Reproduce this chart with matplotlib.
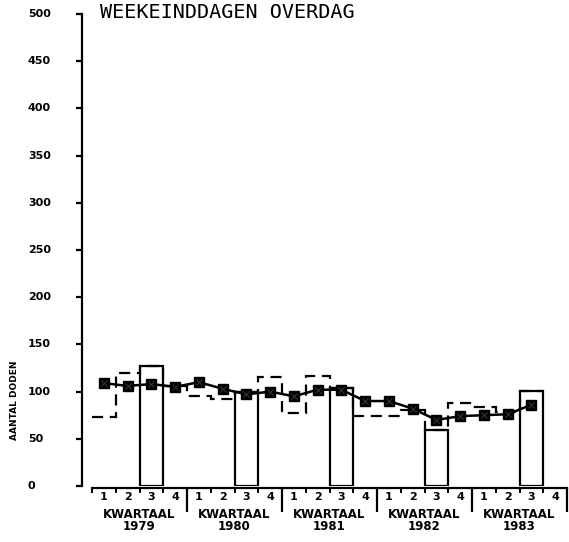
import matplotlib
matplotlib.use("Agg")
import matplotlib.pyplot as plt
import matplotlib.transforms as mtransforms
import numpy as np

# Data (quarters 1979 Q1 .. 1983 Q3)
years = ['1979', '1980', '1981', '1982', '1983']
quarter_labels = ['1', '2', '3', '4']
deaths = [73, 120, 127, 106, 95, 92, 100, 115, 77, 116, 104, 74, 74, 80, 59, 88, 84, 78, 101]
trend = [109, 106, 108, 105, 110, 103, 97, 100, 95, 102, 102, 90, 90, 82, 70, 74, 75, 76, 86]
yticks = [0, 50, 100, 150, 200, 250, 300, 350, 400, 450, 500]

W, H = 569, 542
fig = plt.figure(figsize=(W / 100, H / 100), dpi=100)
ax = fig.add_axes([92 / W, (H - 486) / H, 475 / W, 472 / H])

n_q = len(years) * 4
edges = np.arange(len(deaths) + 1)

# dashed quarterly step line
ax.stairs(deaths, edges, baseline=None, color='black', lw=1.6,
          linestyle=(0, (5, 3)))

# third quarters drawn as solid bars
q3 = [i for i in range(len(deaths)) if i % 4 == 2]
ax.bar(q3, [deaths[i] for i in q3], width=1, align='edge', fill=False,
       edgecolor='black', lw=1.6, zorder=3)

# smoothed line with square markers
xc = np.arange(len(trend)) + 0.5
ax.plot(xc, trend, color='black', lw=1.8, marker='s', ms=6.5, zorder=4)
ax.plot(xc, trend, ls='none', marker='x', ms=4, mec='#444444', mew=0.6, zorder=5)

ax.set_xlim(0, n_q)
ax.set_ylim(0, 500)

for s in ['top', 'right']:
    ax.spines[s].set_visible(False)
ax.spines['left'].set_position(('outward', 7.2))
ax.spines['bottom'].set_position(('outward', 1.5))
ax.spines['left'].set_linewidth(1.6)
ax.spines['bottom'].set_linewidth(1.6)

ax.set_yticks(yticks)
ax.set_yticklabels([])
ax.tick_params(axis='y', direction='out', length=4.3, width=1.6)

ax.set_xticks([4, 8, 12, 16, 20])
ax.set_xticks([i for i in range(n_q) if i % 4 != 0 or i == 0], minor=True)
ax.set_xticklabels([])
ax.tick_params(axis='x', which='major', direction='out', length=17, width=1.6)
ax.tick_params(axis='x', which='minor', direction='out', length=3.5, width=1.4)

# y tick labels, left aligned like the plotter output
ty = mtransforms.blended_transform_factory(fig.transFigure, ax.transData)
for v in yticks:
    ax.text(28 / W, v, str(v), transform=ty, ha='left', va='center',
            fontsize=8, fontweight='bold', family='DejaVu Sans')

# x labels
tx = mtransforms.blended_transform_factory(ax.transData, fig.transFigure)
for i in range(n_q):
    ax.text(i + 0.5, 1 - 497 / H, quarter_labels[i % 4], transform=tx,
            ha='center', va='center', fontsize=8, fontweight='bold')
for k, yr in enumerate(years):
    ax.text(4 * k + 2, 1 - 514 / H, 'KWARTAAL', transform=tx, ha='center',
            va='center', fontsize=8.5, fontweight='bold')
    ax.text(4 * k + 2, 1 - 527 / H, yr, transform=tx, ha='center',
            va='center', fontsize=8.5, fontweight='bold')

fig.text(15 / W, 1 - 400 / H, 'AANTAL DODEN', rotation=90, ha='center',
         va='center', fontsize=6.5, fontweight='bold')
fig.text(100 / W, 1 - 12 / H, 'WEEKEINDDAGEN OVERDAG', ha='left', va='center',
         fontsize=14.5, family='DejaVu Sans Mono')

fig.savefig('out.png', dpi=100)
